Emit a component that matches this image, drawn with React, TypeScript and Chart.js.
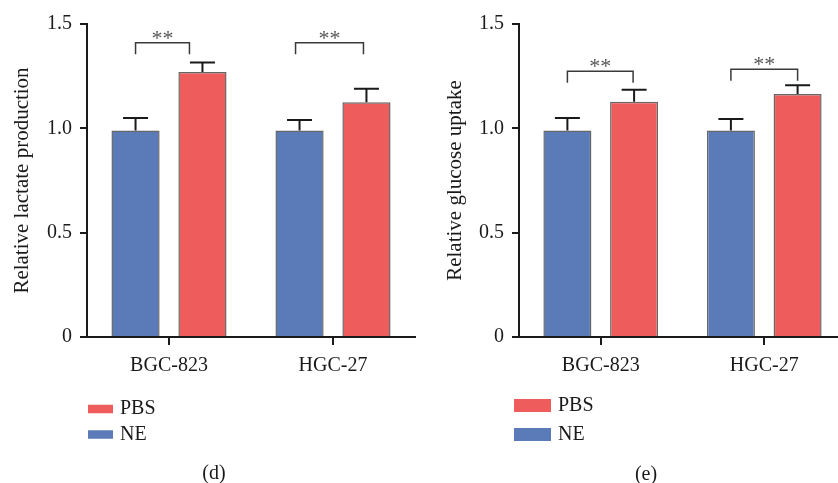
import React, { useEffect, useRef } from "react";
import { Chart, registerables } from "chart.js";

Chart.register(...registerables);

// ---------- data ----------
const categories = ["BGC-823", "HGC-27"];
const seriesNames = ["NE", "PBS"];
const yTicks = [0, 0.5, 1.0, 1.5];

const lactateNE = [0.99, 0.99];
const lactateNEErr = [0.06, 0.05];
const lactatePBS = [1.27, 1.125];
const lactatePBSErr = [0.045, 0.065];
const lactateSig = ["**", "**"];
const lactateBracket = [1.41, 1.41];

const glucoseNE = [0.99, 0.99];
const glucoseNEErr = [0.06, 0.055];
const glucosePBS = [1.127, 1.165];
const glucosePBSErr = [0.058, 0.042];
const glucoseSig = ["**", "**"];
const glucoseBracket = [1.273, 1.283];

// ---------- styles ----------
const FONT = "'Liberation Serif', 'Times New Roman', serif";
const BLUE = "#5B7BB8";
const RED = "#EE5C5C";
const INK = "#1a1a1a";

type PanelCfg = {
  title: string;
  ne: number[];
  neErr: number[];
  pbs: number[];
  pbsErr: number[];
  sig: string[];
  bracket: number[];
  legOffsets: number[][];
  width: number;
  left: number;
  padLeft: number;
  padRight: number;
  yAxisWidth: number;
  legend: { x: number; y1: number; y2: number; w: number; h: number; tx: number };
  caption: { text: string; x: number; y: number };
};

function Panel({ cfg }: { cfg: PanelCfg }) {
  const ref = useRef<HTMLCanvasElement | null>(null);
  useEffect(() => {
    const canvas = ref.current!;
    const annot = {
      id: "annot",
      afterDatasetsDraw(chart: any) {
        const ctx = chart.ctx;
        const y = chart.scales.y;
        const m0 = chart.getDatasetMeta(0);
        const m1 = chart.getDatasetMeta(1);
        ctx.save();
        // error bars
        const errs = [cfg.neErr, cfg.pbsErr];
        const vals = [cfg.ne, cfg.pbs];
        [m0, m1].forEach((meta: any, di: number) => {
          meta.data.forEach((bar: any, i: number) => {
            const top = y.getPixelForValue(vals[di][i]);
            const hi = y.getPixelForValue(vals[di][i] + errs[di][i]);
            ctx.strokeStyle = INK;
            ctx.lineWidth = 2;
            ctx.beginPath();
            ctx.moveTo(bar.x, top);
            ctx.lineTo(bar.x, hi);
            ctx.moveTo(bar.x - 12.5, hi);
            ctx.lineTo(bar.x + 12.5, hi);
            ctx.stroke();
          });
        });
        // brackets
        cfg.bracket.forEach((bv: number, i: number) => {
          const xl = m0.data[i].x + cfg.legOffsets[i][0];
          const xr = m1.data[i].x + cfg.legOffsets[i][1];
          const by = y.getPixelForValue(bv);
          const ly = by + 11.5;
          ctx.strokeStyle = "#3a3a3a";
          ctx.lineWidth = 1.5;
          ctx.beginPath();
          ctx.moveTo(xl, ly);
          ctx.lineTo(xl, by);
          ctx.lineTo(xr, by);
          ctx.lineTo(xr, ly);
          ctx.stroke();
          ctx.fillStyle = "#555";
          ctx.font = `22px ${FONT}`;
          ctx.textAlign = "center";
          ctx.textBaseline = "middle";
          ctx.fillText(cfg.sig[i], (xl + xr) / 2, by - 4);
        });
        ctx.restore();
      },
      afterDraw(chart: any) {
        const ctx = chart.ctx;
        const L = cfg.legend;
        ctx.save();
        ctx.fillStyle = RED;
        ctx.fillRect(L.x, L.y1 - L.h / 2, L.w, L.h);
        ctx.fillStyle = BLUE;
        ctx.fillRect(L.x, L.y2 - L.h / 2, L.w, L.h);
        ctx.fillStyle = INK;
        ctx.font = `20px ${FONT}`;
        ctx.textAlign = "left";
        ctx.textBaseline = "middle";
        ctx.fillText(seriesNames[1], L.tx, L.y1);
        ctx.fillText(seriesNames[0], L.tx, L.y2);
        ctx.textAlign = "center";
        ctx.fillText(cfg.caption.text, cfg.caption.x, cfg.caption.y);
        ctx.restore();
      },
    };
    const chart = new Chart(canvas, {
      type: "bar",
      data: {
        labels: categories,
        datasets: [
          {
            label: seriesNames[0],
            data: cfg.ne,
            backgroundColor: BLUE,
            borderColor: "#666",
            borderWidth: 1.5,
            categoryPercentage: 0.816,
            barPercentage: 0.72,
          },
          {
            label: seriesNames[1],
            data: cfg.pbs,
            backgroundColor: RED,
            borderColor: "#666",
            borderWidth: 1.5,
            categoryPercentage: 0.816,
            barPercentage: 0.72,
          },
        ],
      },
      options: {
        animation: false,
        responsive: false,
        maintainAspectRatio: false,
        layout: { padding: { top: 24, bottom: 96, left: cfg.padLeft, right: cfg.padRight } },
        plugins: { legend: { display: false }, tooltip: { enabled: false } },
        scales: {
          x: {
            grid: {
              offset: false,
              drawOnChartArea: false,
              drawTicks: true,
              tickLength: 8,
              color: INK,
              lineWidth: 2,
            },
            border: { display: true, color: INK, width: 2 },
            ticks: { color: INK, padding: 9, font: { family: FONT, size: 20 } },
          },
          y: {
            min: 0,
            max: 1.5,
            afterBuildTicks(scale: any) {
              scale.ticks = yTicks.map((v) => ({ value: v }));
            },
            afterFit(scale: any) {
              scale.width = cfg.yAxisWidth;
            },
            grid: {
              drawOnChartArea: false,
              drawTicks: true,
              tickLength: 7,
              color: INK,
              lineWidth: 2,
            },
            border: { display: true, color: INK, width: 2 },
            ticks: {
              color: INK,
              padding: 8,
              font: { family: FONT, size: 20 },
              callback: (v: any) => (Number(v) === 0 ? "0" : Number(v).toFixed(1)),
            },
            title: {
              display: true,
              text: cfg.title,
              color: INK,
              font: { family: FONT, size: 21 },
              padding: { top: 4, bottom: 4 },
            },
          },
        },
      },
      plugins: [annot],
    } as any);
    return () => chart.destroy();
  }, [cfg]);
  return (
    <canvas
      ref={ref}
      width={cfg.width}
      height={483}
      style={{ position: "absolute", left: cfg.left, top: 0, width: cfg.width, height: 483 }}
    />
  );
}

const lactateCfg: PanelCfg = {
  title: "Relative lactate production",
  ne: lactateNE,
  neErr: lactateNEErr,
  pbs: lactatePBS,
  pbsErr: lactatePBSErr,
  sig: lactateSig,
  bracket: lactateBracket,
  legOffsets: [
    [0, -13],
    [-4, -3],
  ],
  width: 420,
  left: 0,
  padLeft: 6,
  padRight: 5,
  yAxisWidth: 81,
  legend: { x: 88, y1: 409, y2: 434.5, w: 25, h: 8.5, tx: 120 },
  caption: { text: "(d)", x: 214, y: 474 },
};

const glucoseCfg: PanelCfg = {
  title: "Relative glucose uptake",
  ne: glucoseNE,
  neErr: glucoseNEErr,
  pbs: glucosePBS,
  pbsErr: glucosePBSErr,
  sig: glucoseSig,
  bracket: glucoseBracket,
  legOffsets: [
    [0, -1],
    [0, 0],
  ],
  width: 430,
  left: 420,
  padLeft: 19,
  padRight: 4,
  yAxisWidth: 80,
  legend: { x: 94, y1: 405.5, y2: 434.5, w: 37, h: 13, tx: 138 },
  caption: { text: "(e)", x: 226, y: 475 },
};

export default function App() {
  return (
    <div
      style={{
        position: "fixed",
        left: 0,
        top: 0,
        width: 838,
        height: 483,
        overflow: "hidden",
        background: "#fff",
      }}
    >
      <Panel cfg={lactateCfg} />
      <Panel cfg={glucoseCfg} />
    </div>
  );
}
